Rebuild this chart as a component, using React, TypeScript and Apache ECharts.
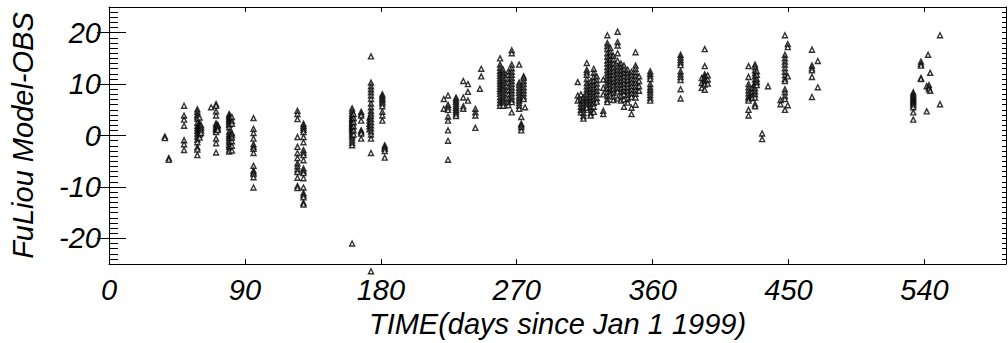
import React, { useEffect, useRef } from "react";
import * as echarts from "echarts";

type Col = [number, number[]];

// x tick labels / y tick labels
const xTicks = [0, 90, 180, 270, 360, 450, 540];
const yMajor = [-20, -10, 0, 10, 20];

// Each entry: [day since Jan 1 1999, list of FuLiou Model - OBS values on that day]
const spring1999: Col[] = [
  [37.0, [-0.2, -0.5]],
  [39.6, [-4.4, -4.7]],
  [49.7, [5.8, 3.9, 3.1, 1.9, -0.9, -1.7, -2.8]],
  [58.5, [5.1, 4.6, 4.1, 3.7, 3.3, 2.5, 1.9, 1.4, 0.9, 0.4, -0.2, -0.8, -1.3, -2.3, -2.7, -3.8]],
  [60.0, [3.5, 2.3, 2.0, 1.7, 1.4, 1.1, 0.8, 0.5, 0.2, -0.4]],
  [61.0, [2.0, 1.5, 1.0, 0.5]],
  [67.6, [5.5]],
  [70.9, [6.1, 5.8, 4.7, 3.9, 2.4, 2.0, 1.6, 1.3, 1.0, 0.7, -0.6, -1.5, -3.3]],
  [72.0, [2.1, 1.8, 1.4, 1.1]],
  [79.6, [4.2, 3.9, 3.6, 3.3, 3.0, 2.7, 2.4, 2.1, 1.6, 0.8, 0.3, -0.1, -0.5, -0.9, -1.3, -1.8, -2.2, -2.7, -3.1]],
  [81.4, [3.6, 2.8, 2.3, 0.5, 0.1, -0.4, -1.1, -2.0, -2.9]],
  [95.7, [3.4, 1.3, 0.5, -0.6, -1.7, -2.2, -2.6, -3.4, -5.9, -6.8, -7.2, -7.5, -8.1, -10.1]],
  [124.8, [4.8, 4.2, 3.2, -0.3, -2.2, -3.4, -4.4, -5.4, -6.0, -6.6, -7.1, -8.2, -9.8, -10.2]],
  [128.8, [2.3, 1.9, 1.5, 1.1, 0.7, -0.3, -1.3, -2.8, -3.3, -3.8, -4.8, -6.4, -6.9, -7.3, -8.3, -10.1, -11.2, -11.6, -12.0, -13.1, -13.4]],
];

const summer1999: Col[] = [
  [161.0, [5.3, 4.8, 4.3, 3.9, 3.5, 3.2, 2.9, 2.6, 2.3, 2.0, 1.7, 1.4, 1.1, 0.8, 0.4, 0.0, -0.4, -0.9, -1.4, -1.9, -21.0]],
  [162.0, [4.2, 3.4, 2.6, 1.8, 1.0, 0.2]],
  [167.0, [4.6, 4.2, 3.9, 2.9, 1.0, 0.7, 0.4, -0.6]],
  [172.5, [3.5, 2.9, 2.3, 1.8, 1.2]],
  [173.5, [15.4, 10.3, 9.6, 9.0, 8.4, 7.8, 7.1, 6.2, 5.5, 4.8, 4.3, 3.8, 3.2, 2.6, 2.0, 1.4, 0.8, 0.2, -0.6, -3.4, -26.4]],
  [181.0, [8.0, 7.7, 7.3, 7.0, 6.6, 6.2, 5.7, 4.6, 3.9, 2.9]],
  [182.6, [-1.9, -2.3, -2.6, -3.0, -4.3]],
];

const fall1999: Col[] = [
  [221.7, [7.1, 5.2]],
  [224.5, [7.8, 6.0, 5.5, 5.0, 3.7, 2.9, 1.0, -1.0, -4.7]],
  [229.8, [7.4, 7.0, 6.6, 6.2, 5.8, 5.4, 5.0, 4.6, 4.2, 3.8]],
  [234.6, [10.6, 7.4, 5.7, 5.2]],
  [237.7, [10.0, 8.5, 6.8]],
  [242.6, [5.2, 4.5, 3.9, 1.5]],
  [245.6, [9.1]],
  [246.5, [13.0, 11.5]],
  [259.0, [15.0, 13.8, 13.2, 12.6, 12.1, 11.6, 11.1, 10.6, 10.1, 9.6, 9.1, 8.6, 8.1, 7.5, 6.9, 6.3, 5.8]],
  [261.0, [12.8, 12.2, 11.7, 11.2, 10.7, 10.2, 9.7, 9.2, 8.8, 8.3, 7.8, 7.3, 6.8, 6.3, 5.8]],
  [264.5, [12.5, 11.8, 11.0, 10.3, 9.5, 8.8, 8.0, 7.2, 6.5, 5.9]],
  [266.7, [16.6, 16.0, 13.8, 13.1, 12.4, 11.8, 11.2, 10.6, 10.0, 9.4, 8.8, 8.2, 7.6, 7.0, 6.5, 4.5]],
  [271.6, [13.8, 10.3, 9.8, 9.3, 8.8, 8.3, 7.8, 7.3, 6.8, 6.3, 5.8, 5.2]],
  [273.0, [3.6, 2.3, 2.0, 1.6, 1.0]],
  [274.6, [11.5, 11.2, 10.6, 10.0, 9.4, 8.8, 8.2, 7.6, 7.1]],
  [275.5, [5.5]],
];

const winter2000: Col[] = [
  [310.4, [10.4, 7.8, 6.8]],
  [312.5, [8.0, 7.0, 6.2, 5.6, 5.0, 4.5]],
  [314.2, [7.4, 6.8, 6.2, 5.6, 5.0, 4.4, 3.8, 3.3]],
  [316.4, [14.1, 12.8, 12.3, 11.8, 11.0, 10.2, 9.6, 9.0, 8.5, 8.0, 7.4, 6.9, 6.4, 5.9, 5.4]],
  [319.0, [10.5, 9.8, 9.2, 8.6, 8.0, 7.4, 6.8, 6.2, 5.6, 5.0, 4.4, 3.9]],
  [321.0, [13.0, 12.2, 11.4, 10.6, 9.8, 9.1, 8.4, 7.7, 7.0, 6.3, 5.6, 4.6]],
  [323.0, [11.5, 10.8, 10.1, 9.4, 8.7, 8.0, 7.3, 6.6]],
  [327.3, [10.9, 9.3, 8.0, 4.8, 4.2]],
  [330.0, [19.5, 18.0, 17.4, 16.8, 16.0, 15.3, 14.6, 14.0, 13.3, 12.7, 12.1, 11.5, 10.9, 10.3, 9.7, 9.1, 8.4, 7.7, 7.0, 6.5]],
  [332.0, [17.0, 16.3, 15.6, 14.9, 14.2, 13.6, 13.0, 12.4, 11.8, 11.2, 10.6, 10.0, 9.3, 8.6, 8.0]],
  [334.0, [15.5, 14.8, 14.0, 13.2, 12.5, 11.8, 11.1, 10.4, 9.7, 9.0, 8.3, 7.6, 6.9]],
  [336.8, [20.2, 18.2, 17.5, 16.0, 14.5, 13.5, 12.8, 12.1, 11.4, 10.7, 10.0, 9.3, 8.6, 7.2]],
  [339.0, [14.0, 13.3, 12.6, 11.9, 11.2, 10.5, 9.8, 9.1, 8.4, 7.7, 6.8]],
  [341.0, [13.6, 12.9, 12.2, 11.5, 10.8, 10.1, 9.4, 8.7, 8.0, 7.0, 5.6]],
  [343.5, [12.8, 12.1, 11.4, 10.7, 10.0, 9.3, 8.6, 7.9, 7.2, 6.4]],
  [346.0, [12.4, 11.7, 11.0, 10.3, 9.6, 8.9, 8.2, 7.5, 5.4, 4.2]],
  [348.7, [16.2, 13.6, 13.0, 12.3, 11.6, 10.9, 10.2, 9.5, 8.8, 8.1, 7.4, 6.0]],
  [351.0, [11.5, 10.6, 9.6, 8.7]],
  [358.4, [12.5, 12.0, 11.5, 11.0, 10.0, 9.4, 8.9, 8.4, 7.9, 7.3, 6.8]],
];

const spring2000: Col[] = [
  [378.5, [15.7, 15.2, 14.7, 14.2, 13.7, 12.5, 11.9, 11.4, 10.8, 9.0, 7.2]],
  [392.5, [11.2, 10.2, 9.3]],
  [394.5, [16.8, 13.5, 11.9, 11.5, 11.1, 10.7, 10.3, 9.9, 8.9]],
  [396.5, [11.7, 10.9, 10.1]],
  [423.5, [13.5, 11.4, 10.0, 9.4, 8.8, 8.2, 7.6, 7.2, 6.8, 5.0, 3.9]],
  [426.0, [9.2, 8.5, 7.8, 7.3]],
  [427.8, [13.8, 13.3, 12.7, 12.1, 11.5, 10.9, 10.3, 9.8, 9.2, 8.6, 8.0, 7.4, 6.1, 5.7]],
  [429.0, [12.5, 11.8, 11.0, 10.4, 9.8]],
  [432.5, [0.4, -0.7]],
  [436.4, [9.6]],
  [444.7, [6.9, 6.1]],
  [447.6, [19.5, 15.7, 15.0, 14.4, 13.8, 13.1, 12.4, 11.7, 11.0, 10.6, 9.0, 8.4, 7.7, 7.1, 5.0]],
  [449.5, [17.8, 17.2, 11.5, 5.9]],
  [465.5, [16.7, 13.6, 13.1, 12.7, 11.4, 7.5]],
  [469.4, [14.5, 9.4]],
];

const summer2000: Col[] = [
  [532.6, [8.4, 8.0, 7.7, 7.4, 7.1, 6.8, 6.5, 6.2, 5.9, 5.5, 4.5, 3.1]],
  [537.7, [14.4, 13.9, 13.6, 11.2, 11.0]],
  [541.5, [9.6, 4.7]],
  [542.4, [15.7]],
  [543.0, [9.8, 9.3, 9.0]],
  [543.8, [12.2, 8.7]],
  [550.3, [19.5, 6.1]],
];

const FONT = "'Liberation Sans', Arial, Helvetica, sans-serif";

export default function App() {
  const ref = useRef<HTMLDivElement>(null);
  useEffect(() => {
    document.body.style.margin = "0";
    if (!ref.current) return;
    const chart = echarts.init(ref.current, undefined, { renderer: "svg" });
    const groups = [spring1999, summer1999, fall1999, winter2000, spring2000, summer2000];
    const points = groups.flatMap((g) => g.flatMap(([d, vs]) => vs.map((v) => [d, v])));
    const lineStyle = { color: "#000", width: 1 };
    const labelStyle = {
      color: "#000",
      fontSize: 29,
      fontStyle: "italic" as const,
      fontFamily: FONT,
    };
    const yBase = { type: "value" as const, min: -25, max: 25, splitLine: { show: false } };
    chart.setOption({
      animation: false,
      backgroundColor: "#fff",
      grid: { left: 106, right: 2, top: 7, bottom: 76, containLabel: false },
      xAxis: [
        {
          type: "value",
          min: 0,
          max: 594,
          interval: 90,
          position: "bottom",
          splitLine: { show: false },
          axisLine: { show: true, onZero: false, lineStyle },
          axisTick: { show: true, inside: true, length: 5, lineStyle },
          axisLabel: {
            ...labelStyle,
            margin: 11,
            showMaxLabel: false,
            formatter: (v: number) => (xTicks.includes(v) ? String(v) : ""),
          },
          name: "TIME(days since Jan 1 1999)",
          nameLocation: "middle",
          nameGap: 42,
          nameTextStyle: { ...labelStyle },
        },
        {
          type: "value",
          min: 0,
          max: 594,
          interval: 90,
          position: "top",
          splitLine: { show: false },
          axisLine: { show: true, onZero: false, lineStyle },
          axisTick: { show: true, inside: true, length: 5, lineStyle },
          axisLabel: { show: false },
        },
      ],
      yAxis: [
        {
          ...yBase,
          position: "left",
          interval: 1,
          axisLine: { show: true, onZero: false, lineStyle },
          axisTick: { show: true, inside: true, length: 9, lineStyle },
          axisLabel: { show: false },
        },
        {
          ...yBase,
          position: "left",
          axisLine: { show: false },
          axisTick: { show: true, inside: true, length: 17, lineStyle, customValues: yMajor },
          axisLabel: { ...labelStyle, margin: 8, customValues: yMajor },
          name: "FuLiou Model-OBS",
          nameLocation: "middle",
          nameRotate: 90,
          nameGap: 72,
          nameTextStyle: { ...labelStyle },
        },
        {
          ...yBase,
          position: "right",
          interval: 1,
          axisLine: { show: true, onZero: false, lineStyle },
          axisTick: { show: true, inside: true, length: 4, lineStyle },
          axisLabel: { show: false },
        },
        {
          ...yBase,
          position: "right",
          axisLine: { show: false },
          axisTick: { show: true, inside: true, length: 12, lineStyle, customValues: yMajor },
          axisLabel: { show: false },
        },
      ],
      series: [
        {
          type: "scatter",
          xAxisIndex: 0,
          yAxisIndex: 0,
          data: points,
          clip: false,
          symbol: "triangle",
          symbolSize: 5,
          itemStyle: { color: "#fff", borderColor: "#000", borderWidth: 1.4 },
        },
      ],
    });
    return () => chart.dispose();
  }, []);
  return <div ref={ref} style={{ width: 1008, height: 343 }} />;
}
